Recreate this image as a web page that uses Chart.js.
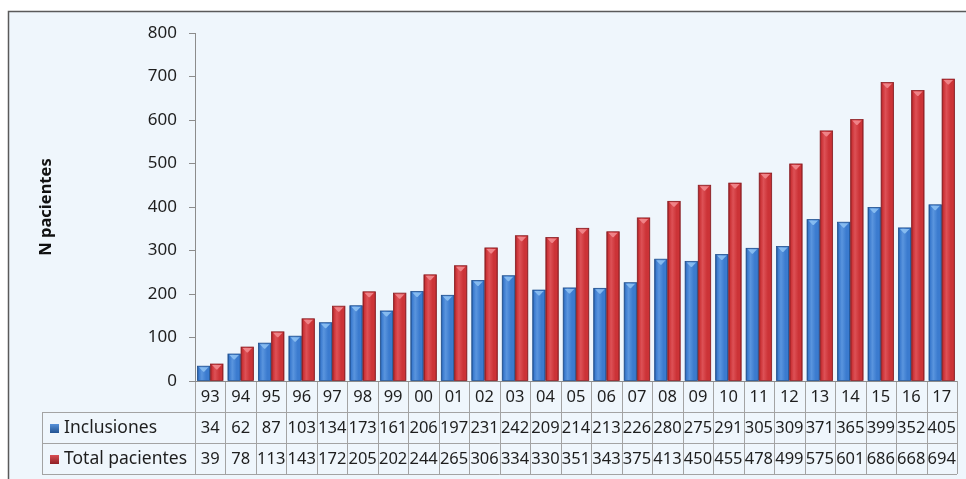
<!DOCTYPE html>
<html>
<head>
<meta charset="utf-8">
<script src="https://cdn.jsdelivr.net/npm/chart.js@4.4.1/dist/chart.umd.min.js"></script>
<style>
    html, body { margin: 0; padding: 0; background: #ffffff; }
    #wrap { width: 966px; height: 479px; position: relative; }
</style>
</head>
<body>
<div id="wrap"><canvas id="chart" width="966" height="479"></canvas></div>
<script>
const years = ['93', '94', '95', '96', '97', '98', '99', '00', '01', '02', '03', '04', '05',
    '06', '07', '08', '09', '10', '11', '12', '13', '14', '15', '16', '17'];
const inclusiones = [34, 62, 87, 103, 134, 173, 161, 206, 197, 231, 242, 209, 214,
    213, 226, 280, 275, 291, 305, 309, 371, 365, 399, 352, 405];
const totalPacientes = [39, 78, 113, 143, 172, 205, 202, 244, 265, 306, 334, 330, 351,
    343, 375, 413, 450, 455, 478, 499, 575, 601, 686, 668, 694];
const yTicks = [0, 100, 200, 300, 400, 500, 600, 700, 800];

const seriesNames = ['Inclusiones', 'Total pacientes'];
const palette = [
    { dark: '#1f4f8e', mid: '#3b7bcf', light: '#5a95de', cap: '#8cc0f2' },
    { dark: '#8b1d22', mid: '#cc3337', light: '#dd5156', cap: '#f28a8e' },
];

const CAT_PCT = 0.86;
const BAR_PCT = 0.95;
const font = '"Noto Sans", "DejaVu Sans", sans-serif';

function barGradient(context, idx) {
    const chart = context.chart;
    const xs = chart.scales.x;
    const c = palette[idx];
    if (!xs || !chart.chartArea) {
        return c.mid;
    }
    const center = xs.getPixelForValue(context.dataIndex);
    const cat = xs.width / years.length;
    const slot = cat * CAT_PCT / 2;
    const w = slot * BAR_PCT;
    const left = center - cat * CAT_PCT / 2 + idx * slot + (slot - w) / 2;
    if (!isFinite(left)) {
        return c.mid;
    }
    const g = chart.ctx.createLinearGradient(left, 0, left + w, 0);
    g.addColorStop(0, c.dark);
    g.addColorStop(0.12, c.mid);
    g.addColorStop(0.35, c.light);
    g.addColorStop(0.7, c.mid);
    g.addColorStop(0.9, c.mid);
    g.addColorStop(1, c.dark);
    return g;
}

const backgroundPlugin = {
    id: 'frameBg',
    beforeDraw(chart) {
        const ctx = chart.ctx;
        ctx.save();
        ctx.fillStyle = '#eff6fc';
        ctx.fillRect(8, 11, 980, 500);
        ctx.strokeStyle = '#5a5a5a';
        ctx.lineWidth = 1.5;
        ctx.beginPath();
        ctx.moveTo(8.5, 490);
        ctx.lineTo(8.5, 11.5);
        ctx.lineTo(990, 11.5);
        ctx.stroke();
        ctx.restore();
    },
};

const capsPlugin = {
    id: 'barCaps',
    afterDatasetsDraw(chart) {
        const ctx = chart.ctx;
        ctx.save();
        chart.data.datasets.forEach((ds, di) => {
            const meta = chart.getDatasetMeta(di);
            meta.data.forEach((bar) => {
                const { x, y, width } = bar.getProps(['x', 'y', 'width'], true);
                const l = x - width / 2;
                const r = x + width / 2;
                ctx.strokeStyle = palette[di].dark;
                ctx.lineWidth = 0.8;
                ctx.strokeRect(l, y, width, bar.base - y);
                ctx.fillStyle = palette[di].cap;
                ctx.globalAlpha = 0.9;
                ctx.beginPath();
                ctx.moveTo(l + 1.5, y + 1);
                ctx.lineTo(r - 1.5, y + 1);
                ctx.lineTo(x + 0.5, y + 5.5);
                ctx.lineTo(x - 0.5, y + 5.5);
                ctx.closePath();
                ctx.fill();
                ctx.globalAlpha = 1;
            });
        });
        ctx.restore();
    },
};

const tablePlugin = {
    id: 'dataTable',
    afterDraw(chart) {
        const ctx = chart.ctx;
        const xs = chart.scales.x;
        const area = chart.chartArea;
        const cat = xs.width / years.length;
        const rows = [area.bottom, area.bottom + 31, area.bottom + 62, area.bottom + 93];
        const labelLeft = 42;
        const right = area.right;

        ctx.save();
        ctx.strokeStyle = '#a3a3a3';
        ctx.lineWidth = 1;
        ctx.beginPath();
        for (let r = 1; r < rows.length; r++) {
            ctx.moveTo(labelLeft, Math.round(rows[r]) + 0.5);
            ctx.lineTo(right, Math.round(rows[r]) + 0.5);
        }
        ctx.moveTo(labelLeft + 0.5, rows[1]);
        ctx.lineTo(labelLeft + 0.5, rows[3]);
        for (let i = 0; i <= years.length; i++) {
            const px = Math.round(xs.getPixelForValue(i) - cat / 2) + 0.5;
            ctx.moveTo(px, rows[0]);
            ctx.lineTo(px, rows[3]);
        }
        ctx.stroke();

        // axis line over table top
        ctx.strokeStyle = '#8c8c8c';
        ctx.beginPath();
        ctx.moveTo(area.left, Math.round(rows[0]) + 0.5);
        ctx.lineTo(right, Math.round(rows[0]) + 0.5);
        ctx.stroke();

        ctx.fillStyle = '#1e1e1e';
        ctx.font = '16.5px ' + font;
        ctx.textAlign = 'center';
        ctx.textBaseline = 'middle';
        const rowData = [years, inclusiones, totalPacientes];
        rowData.forEach((vals, r) => {
            const cy = (rows[r] + rows[r + 1]) / 2 + 1;
            vals.forEach((v, i) => {
                ctx.fillText(String(v), xs.getPixelForValue(i), cy);
            });
        });

        seriesNames.forEach((name, s) => {
            const cy = (rows[s + 1] + rows[s + 2]) / 2 + 1;
            const sx = 50;
            const g = ctx.createLinearGradient(0, cy - 5, 0, cy + 5);
            g.addColorStop(0, palette[s].light);
            g.addColorStop(1, palette[s].dark);
            ctx.fillStyle = g;
            ctx.fillRect(sx, cy - 4.5, 9, 9);
            ctx.fillStyle = '#1e1e1e';
            ctx.textAlign = 'left';
            ctx.font = '17.5px ' + font;
            ctx.fillText(name, 64, cy);
        });

        // y axis title
        ctx.translate(46, (area.top + area.bottom) / 2);
        ctx.rotate(-Math.PI / 2);
        ctx.textAlign = 'center';
        ctx.font = 'bold 16.5px ' + font;
        ctx.fillStyle = '#111111';
        ctx.fillText('N pacientes', 0, 0);
        ctx.restore();
    },
};

new Chart(document.getElementById('chart'), {
    type: 'bar',
    data: {
        labels: years,
        datasets: [
            {
                label: seriesNames[0],
                data: inclusiones,
                backgroundColor: (c) => barGradient(c, 0),
                borderWidth: 0,
                categoryPercentage: CAT_PCT,
                barPercentage: BAR_PCT,
            },
            {
                label: seriesNames[1],
                data: totalPacientes,
                backgroundColor: (c) => barGradient(c, 1),
                borderWidth: 0,
                categoryPercentage: CAT_PCT,
                barPercentage: BAR_PCT,
            },
        ],
    },
    options: {
        responsive: false,
        animation: false,
        devicePixelRatio: 1,
        layout: {
            padding: { left: 0, top: 33, right: 9, bottom: 98 },
        },
        plugins: {
            legend: { display: false },
            tooltip: { enabled: false },
        },
        scales: {
            x: {
                display: false,
            },
            y: {
                min: 0,
                max: 800,
                afterFit(scale) {
                    scale.width = 195;
                },
                afterBuildTicks(scale) {
                    scale.ticks = yTicks.map((v) => ({ value: v }));
                },
                border: { display: true, color: '#8c8c8c', width: 1 },
                grid: {
                    drawOnChartArea: false,
                    drawTicks: true,
                    tickLength: 6,
                    color: '#8c8c8c',
                },
                ticks: {
                    color: '#1e1e1e',
                    padding: 12,
                    font: { family: font, size: 17 },
                },
            },
        },
    },
    plugins: [backgroundPlugin, capsPlugin, tablePlugin],
});
</script>
</body>
</html>
